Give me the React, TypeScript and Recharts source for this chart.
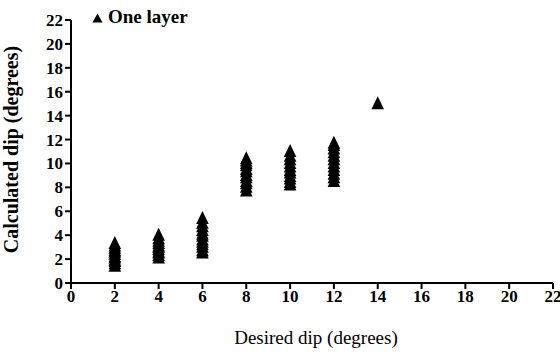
import { Label, Legend, Scatter, ScatterChart, XAxis, YAxis } from 'recharts'

// desired dip (x) -> calculated dips (y), one layer model
const desiredDips = [2, 4, 6, 8, 10, 12, 14]
const calcAt2 = [1.3, 1.5, 1.7, 1.8, 2.0, 2.1, 2.3, 2.5, 2.6, 2.8, 3.0, 3.2]
const calcAt4 = [2.0, 2.2, 2.4, 2.5, 2.7, 2.9, 3.0, 3.2, 3.4, 3.6, 3.9]
const calcAt6 = [2.4, 2.6, 2.9, 3.1, 3.3, 3.5, 3.8, 4.0, 4.3, 4.6, 4.9, 5.3]
const calcAt8 = [7.6, 7.9, 8.2, 8.4, 8.7, 8.9, 9.2, 9.4, 9.7, 9.9, 10.1, 10.3]
const calcAt10 = [8.1, 8.3, 8.6, 8.8, 9.1, 9.3, 9.6, 9.9, 10.2, 10.5, 10.9]
const calcAt12 = [8.4, 8.7, 9.0, 9.3, 9.6, 9.9, 10.2, 10.5, 10.8, 11.1, 11.4, 11.6]
const calcAt14 = [14.9]

const axisTicks = [0, 2, 4, 6, 8, 10, 12, 14, 16, 18, 20, 22]
const seriesName = 'One layer'
const xTitle = 'Desired dip (degrees)'
const yTitle = 'Calculated dip (degrees)'

const groups = [calcAt2, calcAt4, calcAt6, calcAt8, calcAt10, calcAt12, calcAt14]
const points = groups.flatMap((ys, i) => ys.map((y) => ({ x: desiredDips[i], y })))

const FONT = '"Liberation Serif", "Times New Roman", serif'

function Tri(props: any) {
  const { cx, cy } = props
  if (cx == null || cy == null) return null
  return <path d={`M${cx},${cy - 8.7}L${cx + 6.3},${cy + 4.3}L${cx - 6.3},${cy + 4.3}Z`} fill="#000" />
}

function LegendBox() {
  return (
    <div style={{ display: 'flex', alignItems: 'baseline', fontFamily: FONT, fontSize: 19, fontWeight: 'bold', color: '#000' }}>
      <svg width={11} height={10} style={{ marginRight: 5 }}>
        <path d="M5.5,0.5L10.5,9.5L0.5,9.5Z" fill="#000" />
      </svg>
      <span>{seriesName}</span>
    </div>
  )
}

function XTick({ x, y, payload }: any) {
  return (
    <text x={x} y={y + 12} textAnchor="middle" fontFamily={FONT} fontSize={17} fontWeight="bold" fill="#000">
      {payload.value}
    </text>
  )
}

function YTick({ x, y, payload }: any) {
  return (
    <text x={x} y={y + 6} textAnchor="end" fontFamily={FONT} fontSize={17} fontWeight="bold" fill="#000">
      {payload.value}
    </text>
  )
}

export default function App() {
  return (
    <div style={{ position: 'absolute', left: 0, top: 0 }}>
      <ScatterChart width={560} height={356} margin={{ top: 20, right: 7, bottom: 0, left: 0 }}>
        <XAxis
          type="number"
          dataKey="x"
          domain={[0, 22]}
          ticks={axisTicks}
          interval={0}
          height={73}
          tick={<XTick />}
          tickSize={6}
          tickMargin={1}
          stroke="#000"
          strokeWidth={2}
        >
          <Label
            content={({ viewBox }: any) => (
              <text
                x={viewBox.x + viewBox.width / 2 + 4}
                y={340}
                textAnchor="middle"
                dominantBaseline="middle"
                fontFamily={FONT}
                fontSize={19}
                fill="#000"
              >
                {xTitle}
              </text>
            )}
          />
        </XAxis>
        <YAxis
          type="number"
          dataKey="y"
          domain={[0, 22]}
          ticks={axisTicks}
          interval={0}
          width={71}
          tick={<YTick />}
          tickSize={6}
          tickMargin={2}
          stroke="#000"
          strokeWidth={2}
        >
          <Label
            content={({ viewBox }: any) => {
              const cx = 13
              const cy = viewBox.y + viewBox.height / 2 - 2
              return (
                <text
                  x={cx}
                  y={cy}
                  transform={`rotate(-90 ${cx} ${cy})`}
                  textAnchor="middle"
                  dominantBaseline="middle"
                  fontFamily={FONT}
                  fontSize={20}
                  fontWeight="bold"
                  fill="#000"
                >
                  {yTitle}
                </text>
              )
            }}
          />
        </YAxis>
        <Legend
          layout="vertical"
          align="center"
          verticalAlign="middle"
          content={() => <LegendBox />}
          wrapperStyle={{ left: 92, top: 6, width: 'auto' }}
        />
        <Scatter name={seriesName} data={points} fill="#000" shape={Tri} isAnimationActive={false} />
      </ScatterChart>
    </div>
  )
}
